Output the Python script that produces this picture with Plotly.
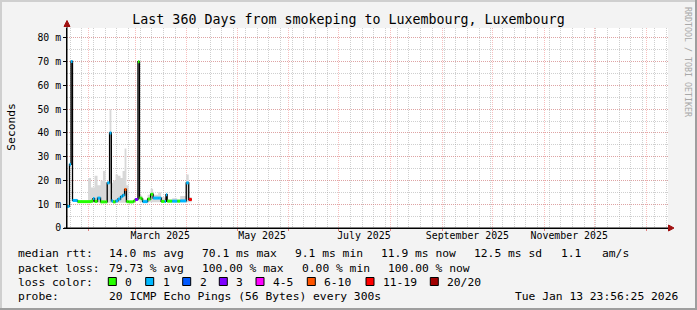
import plotly.graph_objects as go

# ---------------- data ----------------
seg_start = [
    "2025-01-19 04:00", "2025-01-20 16:00", "2025-01-21 14:00", "2025-01-22 11:00",
    "2025-01-25 11:00", "2025-01-31 18:00", "2025-02-02 14:00", "2025-02-03 18:00",
    "2025-02-04 16:00", "2025-02-06 11:00", "2025-02-08 06:00", "2025-02-09 18:00",
    "2025-02-11 06:00", "2025-02-12 06:00", "2025-02-13 16:00", "2025-02-14 18:00",
    "2025-02-15 18:00", "2025-02-17 06:00", "2025-02-18 18:00", "2025-02-20 06:00",
    "2025-02-21 11:00", "2025-02-22 16:00", "2025-02-23 18:00", "2025-02-25 02:00",
    "2025-02-28 02:00", "2025-02-28 23:00", "2025-03-02 16:00", "2025-03-03 14:00",
    "2025-03-04 21:00", "2025-03-05 11:00", "2025-03-08 11:00", "2025-03-10 06:00",
    "2025-03-11 18:00", "2025-03-14 18:00", "2025-03-16 14:00", "2025-03-18 16:00",
    "2025-03-19 11:00", "2025-03-20 04:00", "2025-03-23 04:00", "2025-03-26 04:00",
    "2025-03-27 23:00", "2025-03-31 14:00", "2025-04-02 02:00",
]
data_end = "2025-04-03 21:00"

median_ms = [
    9.1, 26.8, 70.1, 11.6,
    11.1, 11.1, 11.3, 12.4,
    11.2, 12.6, 11.0, 11.0,
    11.0, 19.0, 40.0, 11.4,
    11.0, 11.4, 12.2, 13.2,
    13.8, 16.2, 11.1, 11.0,
    11.4, 12.0, 70.0, 12.6,
    12.2, 11.1, 12.2, 14.2,
    12.6, 12.6, 11.2, 11.2,
    14.0, 11.3, 11.3, 11.3,
    11.4, 19.0, 12.0,
]

# index into loss_labels
loss_level = [
    1, 1, 1, 1,
    0, 0, 0, 1,
    0, 1, 0, 0,
    0, 1, 1, 1,
    0, 1, 1, 1,
    1, 5, 0, 0,
    0, 3, 0, 0,
    0, 1, 0, 0,
    1, 1, 0, 1,
    1, 0, 1, 0,
    1, 1, 6,
]

smoke_lo_ms = [
    9.1, 26.8, 70.1, 11.6,
    11.1, 10.6, 10.6, 10.6,
    10.6, 10.6, 10.6, 10.6,
    10.6, 10.6, 10.6, 10.6,
    10.6, 10.6, 10.6, 10.6,
    10.6, 10.6, 10.6, 11.0,
    11.4, 12.0, 70.0, 10.8,
    10.8, 10.8, 10.8, 10.8,
    10.8, 10.8, 10.8, 10.8,
    10.8, 10.8, 10.8, 10.8,
    10.8, 10.8, 10.8,
]
smoke_hi_ms = [
    9.1, 26.8, 70.1, 11.6,
    11.1, 21.0, 17.0, 17.0,
    22.0, 18.0, 20.0, 24.0,
    19.0, 19.0, 50.0, 19.0,
    20.0, 22.5, 22.0, 21.0,
    24.0, 33.5, 18.0, 11.0,
    11.4, 12.0, 70.0, 14.0,
    13.5, 12.0, 14.0, 16.5,
    14.0, 15.0, 13.0, 12.5,
    14.5, 12.0, 12.5, 12.0,
    13.5, 22.5, 13.0,
]

loss_labels = ["0", "1", "2", "3", "4-5", "6-10", "11-19", "20/20"]

y_ticks = [0, 10, 20, 30, 40, 50, 60, 70, 80]
y_ticktext = ["0", "10 m", "20 m", "30 m", "40 m", "50 m", "60 m", "70 m", "80 m"]

x_label_dates = ["2025-03-16", "2025-05-16", "2025-07-16", "2025-09-16", "2025-11-16"]
x_label_text = ["March 2025", "May 2025", "July 2025", "September 2025", "November 2025"]

x_range = ["2025-01-19 04:00", "2026-01-14 04:00"]
y_range = [0, 84.2]

title_text = "Last 360 Days from smokeping to Luxembourg, Luxembourg"
stats_rtt = [("median rtt:", 16), ("14.0 ms avg", 107.3), ("70.1 ms max", 200),
             ("9.1 ms min", 292.7), ("11.9 ms now", 379.3), ("12.5 ms sd", 472),
             ("1.1", 558.7), ("am/s", 600.3)]
stats_loss = [("packet loss:", 16), ("79.73 % avg", 107.3), ("100.00 % max", 200),
              ("0.00 % min", 300), ("100.00 % now", 386.3)]
probe_text = "20 ICMP Echo Pings (56 Bytes) every 300s"
stamp_text = "Tue Jan 13 23:56:25 2026"

# ---------------- styles ----------------
loss_colors = ["#26ff00", "#00b8ff", "#0059ff", "#7e00ff", "#ff00ff",
               "#ff5500", "#ff0000", "#a10000"]
legend_box_x = [108.3, 145.7, 182.7, 219.3, 256, 307.3, 366, 430.3]
FONT = "DejaVu Sans Mono"
W, H = 697, 310
L, R, T, B = 67, 668, 28, 228


def px(x):
    return (x - L) / (R - L)


def py(y):
    return (B - y) / (B - T)


fig = go.Figure()

ends = seg_start[1:] + [data_end]

# smoke
fig.add_trace(go.Scatter(x=seg_start + [data_end], y=smoke_lo_ms + [smoke_lo_ms[-1]],
                         mode="lines", line=dict(width=0, shape="hv"),
                         hoverinfo="skip", showlegend=False))
fig.add_trace(go.Scatter(x=seg_start + [data_end], y=smoke_hi_ms + [smoke_hi_ms[-1]],
                         mode="lines", line=dict(width=0, shape="hv"),
                         fill="tonexty", fillcolor="#d8d8d8",
                         hoverinfo="skip", showlegend=False))

# black median step line
fig.add_trace(go.Scatter(x=seg_start + [data_end], y=median_ms + [median_ms[-1]],
                         mode="lines", line=dict(color="#000000", width=1.3, shape="hv"),
                         showlegend=False))

# coloured segments by loss level
for lvl, col in enumerate(loss_colors):
    xs, ys = [], []
    for s, e, v, l in zip(seg_start, ends, median_ms, loss_level):
        if l == lvl:
            xs += [s, e, None]
            ys += [v, v, None]
    if xs:
        fig.add_trace(go.Scatter(x=xs, y=ys, mode="lines",
                                 line=dict(color=col, width=3),
                                 showlegend=False))

# dummy trace for label axis
fig.add_trace(go.Scatter(x=x_range, y=[None, None], xaxis="x2", yaxis="y",
                         mode="markers", showlegend=False, hoverinfo="skip"))

MAJ = "rgba(240,110,110,0.45)"
MIN = "rgba(160,160,160,0.5)"

fig.update_layout(
    width=W, height=H,
    margin=dict(l=L, r=W - R, t=T, b=H - B, pad=0),
    paper_bgcolor="#f3f3f3", plot_bgcolor="#ffffff",
    font=dict(family=FONT, color="#000000", size=10),
    showlegend=False,
    title=dict(text=title_text, x=0.5, xref="container", xanchor="center",
               y=1 - 19 / H, yref="container", yanchor="middle",
               font=dict(family=FONT, size=13.3, color="#000000")),
    xaxis=dict(type="date", range=x_range, showticklabels=False,
               showgrid=True, dtick="M1", tick0="2025-02-01",
               gridcolor=MAJ, griddash="1px,1px", gridwidth=1,
               ticks="outside", ticklen=2, tickcolor="#e08080",
               showline=True, linecolor="#000000", linewidth=1,
               zeroline=False,
               minor=dict(showgrid=True, dtick=7 * 86400000, tick0="2025-01-21",
                          gridcolor=MIN, griddash="1px,1px", gridwidth=1)),
    xaxis2=dict(type="date", range=x_range, overlaying="x", anchor="y", side="bottom",
                tickmode="array", tickvals=x_label_dates, ticktext=x_label_text,
                showgrid=False, ticks="", showline=False, zeroline=False,
                tickfont=dict(family=FONT, size=9.9, color="#000000")),
    yaxis=dict(range=y_range, tickmode="array", tickvals=y_ticks, ticktext=y_ticktext,
               showgrid=True, gridcolor=MAJ, griddash="1px,1px", gridwidth=1,
               ticks="outside", ticklen=3, tickcolor="#000000",
               showline=True, linecolor="#000000", linewidth=1, zeroline=False,
               tickfont=dict(family=FONT, size=9.8, color="#000000"),
               minor=dict(showgrid=True, dtick=5, tick0=0,
                          gridcolor=MIN, griddash="1px,1px", gridwidth=1)),
)

ann = []
shapes = []

# y label
ann.append(dict(text="Seconds", x=px(10.7), y=py(127), xref="paper", yref="paper",
                showarrow=False, textangle=-90, xanchor="center", yanchor="middle",
                font=dict(family=FONT, size=11.3)))
# watermark
ann.append(dict(text="RRDTOOL / TOBI OETIKER", x=px(688), y=py(5), xref="paper", yref="paper",
                showarrow=False, textangle=90, xanchor="center", yanchor="top",
                font=dict(family=FONT, size=8.3, color="#a8a8a8")))


def text_at(t, x, y, anchor="left"):
    ann.append(dict(text=t, x=px(x), y=py(y), xref="paper", yref="paper",
                    showarrow=False, xanchor=anchor, yanchor="middle",
                    font=dict(family=FONT, size=11.3, color="#000000")))


for t, x in stats_rtt:
    text_at(t, x, 254)
for t, x in stats_loss:
    text_at(t, x, 268.3)
text_at("loss color:", 16, 282)
for bx, lab, col in zip(legend_box_x, loss_labels, loss_colors):
    shapes.append(dict(type="rect", xref="paper", yref="paper",
                       x0=px(bx), x1=px(bx + 8), y0=py(285.5), y1=py(277.5),
                       fillcolor=col, line=dict(color="#000000", width=1)))
    text_at(lab, bx + 15, 282)
text_at("probe:", 16, 296.3)
text_at(probe_text, 107.3, 296.3)
text_at(stamp_text, 680, 296.3, anchor="right")

# axis arrows
shapes.append(dict(type="line", xref="paper", yref="paper", x0=px(67), x1=px(67),
                   y0=py(228), y1=py(25), line=dict(color="#000000", width=1)))
shapes.append(dict(type="path", xref="paper", yref="paper",
                   path=f"M {px(64)},{py(26.5)} L {px(70)},{py(26.5)} L {px(67)},{py(20.5)} Z",
                   fillcolor="#a01010", line=dict(color="#a01010", width=1)))
shapes.append(dict(type="line", xref="paper", yref="paper", x0=px(64), x1=px(670),
                   y0=py(228), y1=py(228), line=dict(color="#000000", width=1)))
shapes.append(dict(type="path", xref="paper", yref="paper",
                   path=f"M {px(668.5)},{py(225)} L {px(668.5)},{py(231)} L {px(674)},{py(228)} Z",
                   fillcolor="#a01010", line=dict(color="#a01010", width=1)))
# frame (shade)
shapes.append(dict(type="line", xref="paper", yref="paper", x0=px(0), x1=px(697),
                   y0=py(1), y1=py(1), line=dict(color="#cfcfcf", width=2)))
shapes.append(dict(type="line", xref="paper", yref="paper", x0=px(1), x1=px(1),
                   y0=py(0), y1=py(310), line=dict(color="#cfcfcf", width=2)))
shapes.append(dict(type="line", xref="paper", yref="paper", x0=px(0), x1=px(697),
                   y0=py(309), y1=py(309), line=dict(color="#9e9e9e", width=2)))
shapes.append(dict(type="line", xref="paper", yref="paper", x0=px(696), x1=px(696),
                   y0=py(0), y1=py(310), line=dict(color="#9e9e9e", width=2)))

fig.update_layout(annotations=ann, shapes=shapes)
fig.write_html("out.html")
